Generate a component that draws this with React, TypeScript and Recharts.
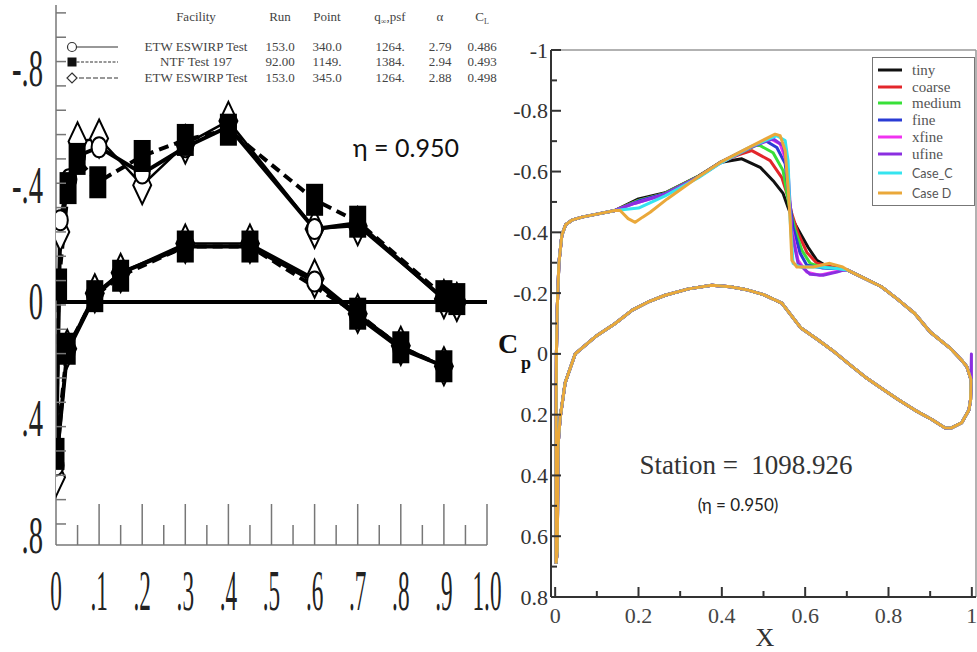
import React from 'react';
import { LineChart, Line, XAxis, YAxis, ReferenceLine, Legend } from 'recharts';

const SERIF = '"Liberation Serif", "Times New Roman", serif';
const SANS = 'Lato, "Open Sans", sans-serif';

// ---------- left panel: wind tunnel Cp at eta = 0.950 ----------
const facilityNames = ['ETW ESWIRP Test', 'NTF Test 197', 'ETW ESWIRP Test'];
const runs = ['153.0', '92.00', '153.0'];
const points = ['340.0', '1149.', '345.0'];
const qInf = ['1264.', '1384.', '1264.'];
const alphas = ['2.79', '2.94', '2.88'];
const liftCoefs = ['0.486', '0.493', '0.498'];

// [x/c, Cp]; lower surface runs trailing edge -> leading edge, upper runs leading edge -> trailing edge
const etw340Lower = [[0.9, 0.22], [0.8, 0.16], [0.7, 0.05], [0.6, -0.07], [0.45, -0.19], [0.3, -0.19], [0.15, -0.1], [0.09, -0.02], [0.026, 0.17], [0, 0.56]];
const etw340Upper = [[0.01, -0.28], [0.03, -0.42], [0.05, -0.5], [0.1, -0.53], [0.2, -0.44], [0.3, -0.53], [0.4, -0.6], [0.6, -0.25], [0.7, -0.27], [0.9, -0.01], [0.93, 0.0]];
const ntfLower = [[0.9, 0.22], [0.8, 0.155], [0.7, 0.04], [0.45, -0.19], [0.3, -0.19], [0.15, -0.09], [0.09, -0.02], [0.026, 0.16], [0, 0.52]];
const ntfUpper = [[0.006, -0.06], [0.028, -0.39], [0.049, -0.49], [0.097, -0.41], [0.2, -0.5], [0.3, -0.555], [0.4, -0.59], [0.6, -0.35], [0.7, -0.275], [0.9, -0.02], [0.93, -0.01]];
const etw345Lower = [[0.9, 0.22], [0.8, 0.15], [0.7, 0.04], [0.6, -0.08], [0.45, -0.2], [0.3, -0.2], [0.15, -0.1], [0.09, -0.03], [0.026, 0.16], [0, 0.6]];
const etw345Upper = [[0.01, -0.24], [0.05, -0.55], [0.1, -0.56], [0.2, -0.4], [0.3, -0.54], [0.4, -0.62], [0.6, -0.25], [0.7, -0.26], [0.9, -0.01], [0.93, 0.0]];

const leftYLabels = [-0.8, -0.4, 0, 0.4, 0.8];

// ---------- right panel: CFD grid study ----------
const caseNames = ['tiny', 'coarse', 'medium', 'fine', 'xfine', 'ufine', 'Case_C', 'Case D'];
const caseColors = ['#111111', '#e3262b', '#38e038', '#2a3bd4', '#f032f0', '#8b2fe0', '#35e4ef', '#eaa83a'];

const upperLeadingEdge = [[0.002, 0.69], [0.002, 0.3], [0.003, 0.0], [0.005, -0.15], [0.009, -0.3], [0.016, -0.39], [0.025, -0.425], [0.04, -0.44], [0.064, -0.45], [0.1, -0.46], [0.144, -0.472]];
const upperAft = [[0.703, -0.275], [0.74, -0.25], [0.783, -0.221], [0.82, -0.182], [0.863, -0.133], [0.9, -0.072], [0.947, -0.02], [0.975, 0.02], [0.988, 0.042], [0.998, 0.085]];
const lowerSurface = [[0.997, 0.15], [0.993, 0.185], [0.976, 0.226], [0.95, 0.244], [0.935, 0.243], [0.904, 0.216], [0.863, 0.185], [0.823, 0.15], [0.783, 0.113], [0.743, 0.075], [0.704, 0.032], [0.664, -0.013], [0.627, -0.05], [0.59, -0.085], [0.544, -0.167], [0.5, -0.195], [0.463, -0.21], [0.42, -0.221], [0.376, -0.226], [0.32, -0.214], [0.264, -0.193], [0.222, -0.17], [0.185, -0.144], [0.144, -0.1], [0.096, -0.056], [0.048, 0.0], [0.024, 0.095], [0.012, 0.21], [0.007, 0.3], [0.005, 0.65], [0.002, 0.69]];
const ufineTrailingEdge = [[0.999, 0.0], [0.999, 0.085]];

const tinyUpper = [[0.2, -0.51], [0.264, -0.53], [0.344, -0.585], [0.396, -0.63], [0.448, -0.642], [0.492, -0.614], [0.523, -0.57], [0.547, -0.528], [0.559, -0.482], [0.571, -0.439], [0.588, -0.397], [0.607, -0.351], [0.628, -0.308], [0.652, -0.288], [0.68, -0.28]];
const coarseUpper = [[0.2, -0.505], [0.264, -0.528], [0.344, -0.584], [0.396, -0.63], [0.44, -0.655], [0.472, -0.669], [0.516, -0.636], [0.544, -0.58], [0.559, -0.515], [0.568, -0.461], [0.583, -0.397], [0.604, -0.334], [0.628, -0.298], [0.66, -0.288], [0.68, -0.282]];
const mediumUpper = [[0.2, -0.505], [0.264, -0.528], [0.344, -0.584], [0.396, -0.63], [0.45, -0.665], [0.487, -0.689], [0.523, -0.662], [0.547, -0.603], [0.561, -0.493], [0.576, -0.407], [0.592, -0.341], [0.612, -0.298], [0.64, -0.285], [0.68, -0.28]];
const fineUpper = [[0.2, -0.503], [0.264, -0.527], [0.344, -0.583], [0.396, -0.63], [0.46, -0.675], [0.504, -0.702], [0.532, -0.679], [0.552, -0.626], [0.563, -0.5], [0.571, -0.416], [0.588, -0.331], [0.604, -0.292], [0.64, -0.283], [0.68, -0.28]];
const xfineUpper = [[0.19, -0.495], [0.264, -0.525], [0.344, -0.582], [0.396, -0.628], [0.47, -0.68], [0.516, -0.708], [0.54, -0.691], [0.554, -0.636], [0.568, -0.407], [0.583, -0.308], [0.604, -0.269], [0.635, -0.259], [0.667, -0.269], [0.69, -0.275]];
const ufineUpper = [[0.19, -0.495], [0.264, -0.525], [0.344, -0.582], [0.396, -0.628], [0.47, -0.68], [0.523, -0.708], [0.547, -0.685], [0.559, -0.603], [0.568, -0.397], [0.583, -0.298], [0.612, -0.262], [0.643, -0.259], [0.676, -0.269], [0.69, -0.275]];
const caseCUpper = [[0.2, -0.48], [0.264, -0.52], [0.344, -0.58], [0.396, -0.627], [0.47, -0.682], [0.532, -0.718], [0.552, -0.702], [0.559, -0.636], [0.564, -0.439], [0.571, -0.298], [0.588, -0.286], [0.635, -0.286], [0.68, -0.28]];
const caseDUpper = [[0.156, -0.472], [0.175, -0.445], [0.192, -0.433], [0.21, -0.45], [0.228, -0.466], [0.269, -0.51], [0.344, -0.583], [0.396, -0.63], [0.47, -0.683], [0.528, -0.723], [0.54, -0.718], [0.552, -0.669], [0.559, -0.548], [0.564, -0.439], [0.568, -0.308], [0.58, -0.286], [0.619, -0.286], [0.659, -0.298], [0.69, -0.286]];

const legendRowY = [13, 30, 46, 63, 80, 97, 116, 136];

const toPoints = (pairs: number[][]) => pairs.map(([x, cp]) => ({ x, cp }));

const loop = (lower: number[][], upper: number[][]) => toPoints([...lower, ...upper]);

const caseLoops = [tinyUpper, coarseUpper, mediumUpper, fineUpper, xfineUpper, ufineUpper, caseCUpper, caseDUpper].map(
  (mid, i) =>
    toPoints([
      ...upperLeadingEdge,
      ...mid,
      ...upperAft,
      ...(caseNames[i] === 'ufine' ? ufineTrailingEdge : []),
      ...lowerSurface,
    ])
);

// ---------- markers ----------
const SquareDot = (p: any) => (
  <rect key={p.index} x={p.cx - 8.5} y={p.cy - 16} width={17} height={32} fill="#000" />
);
const CircleDot = (p: any) => (
  <ellipse key={p.index} cx={p.cx} cy={p.cy} rx={7.5} ry={10} fill="#fff" stroke="#000" strokeWidth={2} />
);
const DiamondDot = (p: any) => (
  <polygon
    key={p.index}
    points={`${p.cx},${p.cy - 19} ${p.cx + 9},${p.cy} ${p.cx},${p.cy + 19} ${p.cx - 9},${p.cy}`}
    fill="#fff"
    stroke="#000"
    strokeWidth={2}
  />
);

// ---------- ticks ----------
const isMultiple = (v: number, step: number) => Math.abs(v / step - Math.round(v / step)) < 1e-6;

const leftXTicks = Array.from({ length: 21 }, (_, i) => i * 0.05);
const leftYTicks = [
  ...Array.from({ length: 22 }, (_, k) => -0.99 + k / 12),
  ...leftYLabels,
].sort((a, b) => a - b);

const LeftXTick = ({ x, y, payload }: any) => {
  const v = payload.value;
  const major = isMultiple(v, 0.1);
  const label = v === 0 ? '0' : isMultiple(v, 1) ? '1.0' : '.' + Math.round(v * 10);
  return (
    <g>
      {v > 0 && <line x1={x} x2={x} y1={y} y2={y - (major ? 41 : 20)} stroke="#777" strokeWidth={1.5} />}
      {major && (
        <text
          transform={`translate(${x},${y + 46}) scale(0.4,1)`}
          textAnchor="middle"
          dominantBaseline="central"
          fontSize={58}
          fontFamily={SERIF}
          fill="#222"
        >
          {label}
        </text>
      )}
    </g>
  );
};

const LeftYTick = ({ x, y, payload }: any) => {
  const v = payload.value;
  if (leftYLabels.includes(v)) {
    const label = v === 0 ? '0' : (v < 0 ? '-.' : '.') + Math.round(Math.abs(v) * 10);
    return (
      <text
        transform={`translate(${x - 13},${y}) scale(0.55,1)`}
        textAnchor="end"
        dominantBaseline="central"
        fontSize={52}
        fontFamily={SERIF}
        fill="#222"
      >
        {label}
      </text>
    );
  }
  return <line x1={x} x2={x + 10} y1={y} y2={y} stroke="#777" strokeWidth={1.5} />;
};

const rightYTicks = Array.from({ length: 19 }, (_, i) => Math.round((-1 + i * 0.1) * 10) / 10);
const rightXTicks = Array.from({ length: 11 }, (_, i) => Math.round(i * 0.1 * 10) / 10);

const fmtRight = (v: number) => (v === 0 ? '0' : isMultiple(v, 1) ? String(v) : v.toFixed(1));

const RightYTick = ({ x, y, payload }: any) => {
  const v = payload.value;
  const major = isMultiple(v, 0.2);
  return (
    <g>
      <line x1={x} x2={x + (major ? 10 : 6)} y1={y} y2={y} stroke="#333" strokeWidth={2} />
      {major && (
        <text x={x - 3} y={y} textAnchor="end" dominantBaseline="central" fontSize={22} fontFamily={SERIF} fill="#333">
          {fmtRight(v)}
        </text>
      )}
    </g>
  );
};

const RightXTick = ({ x, y, payload }: any) => {
  const v = payload.value;
  const major = isMultiple(v, 0.2);
  return (
    <g>
      <line x1={x} x2={x} y1={y} y2={y - (major ? 10 : 6)} stroke="#333" strokeWidth={2} />
      {major && (
        <text x={x} y={y + 18} textAnchor="middle" dominantBaseline="central" fontSize={22} fontFamily={SERIF} fill="#444">
          {fmtRight(v)}
        </text>
      )}
    </g>
  );
};

// ---------- legends ----------
const FacilityLegend = () => {
  const rowY = [47, 62, 78];
  const cols = [196, 280, 327, 390, 440, 482];
  return (
    <svg width={515} height={95} style={{ display: 'block' }}>
      <g fontFamily={SERIF} fontSize={13} fill="#444" textAnchor="middle">
        <text x={cols[0]} y={21}>Facility</text>
        <text x={cols[1]} y={21}>Run</text>
        <text x={cols[2]} y={21}>Point</text>
        <text x={cols[3]} y={21}>
          q<tspan fontSize={8} dy={3}>∞</tspan>
          <tspan dy={-3}>,psf</tspan>
        </text>
        <text x={cols[4]} y={21}>α</text>
        <text x={cols[5]} y={21}>
          C<tspan fontSize={8} dy={3}>L</tspan>
        </text>
        {facilityNames.map((name, i) => (
          <g key={i}>
            <text x={cols[0]} y={rowY[i] + 4}>{name}</text>
            <text x={cols[1]} y={rowY[i] + 4}>{runs[i]}</text>
            <text x={cols[2]} y={rowY[i] + 4}>{points[i]}</text>
            <text x={cols[3]} y={rowY[i] + 4}>{qInf[i]}</text>
            <text x={cols[4]} y={rowY[i] + 4}>{alphas[i]}</text>
            <text x={cols[5]} y={rowY[i] + 4}>{liftCoefs[i]}</text>
          </g>
        ))}
      </g>
      <line x1={72} x2={118} y1={rowY[0]} y2={rowY[0]} stroke="#333" strokeWidth={1.2} />
      <circle cx={72} cy={rowY[0]} r={4.5} fill="#fff" stroke="#333" strokeWidth={1.2} />
      <line x1={72} x2={118} y1={rowY[1]} y2={rowY[1]} stroke="#333" strokeWidth={1.2} strokeDasharray="3 1.5" />
      <rect x={67.5} y={rowY[1] - 4.5} width={9} height={9} fill="#111" />
      <line x1={72} x2={118} y1={rowY[2]} y2={rowY[2]} stroke="#333" strokeWidth={1.2} strokeDasharray="5 2" />
      <polygon
        points={`72,${rowY[2] - 5} 77,${rowY[2]} 72,${rowY[2] + 5} 67,${rowY[2]}`}
        fill="#fff"
        stroke="#333"
        strokeWidth={1.2}
      />
    </svg>
  );
};

const GridLegend = () => (
  <svg width={103} height={149} style={{ display: 'block' }}>
    <rect x={0.5} y={0.5} width={102} height={148} fill="#fff" stroke="#777" strokeWidth={1} />
    {caseNames.map((name, i) => {
      const isCase = name.startsWith('Case');
      return (
        <g key={name}>
          <line x1={6} x2={30} y1={legendRowY[i]} y2={legendRowY[i]} stroke={caseColors[i]} strokeWidth={3} />
          <text
            x={40}
            y={legendRowY[i]}
            dominantBaseline="central"
            fontFamily={isCase ? SANS : SERIF}
            fontSize={isCase ? 12.5 : 15}
            fill="#555"
            style={{ whiteSpace: 'pre' }}
          >
            {name}
          </text>
        </g>
      );
    })}
  </svg>
);

export default function App() {
  return (
    <div style={{ position: 'absolute', left: 0, top: 0, width: 977, height: 652, background: '#fff', overflow: 'hidden' }}>
      <div style={{ position: 'absolute', left: 0, top: 0 }}>
        <LineChart width={515} height={652} margin={{ top: 5, right: 28, bottom: 47, left: 0 }}>
          <XAxis
            type="number"
            dataKey="x"
            domain={[0, 1]}
            ticks={leftXTicks}
            interval={0}
            height={60}
            tickLine={false}
            tickSize={0}
            tickMargin={0}
            tick={LeftXTick}
            axisLine={{ stroke: '#777', strokeWidth: 1.5 }}
            allowDataOverflow
          />
          <YAxis
            type="number"
            dataKey="cp"
            domain={[-1.017, 0.832]}
            reversed
            ticks={leftYTicks}
            interval={0}
            width={56}
            tickLine={false}
            tickSize={0}
            tickMargin={0}
            tick={LeftYTick}
            axisLine={{ stroke: '#777', strokeWidth: 1.5 }}
            allowDataOverflow
          />
          <ReferenceLine y={0} stroke="#000" strokeWidth={4} />
          <Legend
            layout="vertical"
            align="center"
            verticalAlign="middle"
            wrapperStyle={{ left: 0, top: 0, width: 515, height: 95 }}
            content={FacilityLegend}
          />
          <Line
            data={loop(etw345Lower, etw345Upper)}
            dataKey="cp"
            name="ETW ESWIRP Test 345"
            stroke="#000"
            strokeWidth={2.5}
            dot={DiamondDot}
            activeDot={false}
            isAnimationActive={false}
          />
          <Line
            data={loop(etw340Lower, etw340Upper)}
            dataKey="cp"
            name="ETW ESWIRP Test 340"
            stroke="#000"
            strokeWidth={4}
            dot={CircleDot}
            activeDot={false}
            isAnimationActive={false}
          />
          <Line
            data={loop(ntfLower, ntfUpper)}
            dataKey="cp"
            name="NTF Test 197"
            stroke="#000"
            strokeWidth={4}
            strokeDasharray="10 6"
            dot={SquareDot}
            activeDot={false}
            isAnimationActive={false}
          />
        </LineChart>
      </div>

      <div style={{ position: 'absolute', left: 490, top: 0 }}>
        <LineChart width={487} height={652} margin={{ top: 50, right: 1, bottom: 15, left: 0 }}>
          <XAxis
            type="number"
            dataKey="x"
            domain={[-0.01, 1.01]}
            ticks={rightXTicks}
            interval={0}
            height={40}
            tickLine={false}
            tickSize={0}
            tickMargin={0}
            tick={RightXTick}
            axisLine={{ stroke: '#333', strokeWidth: 2 }}
            allowDataOverflow
          />
          <YAxis
            type="number"
            dataKey="cp"
            domain={[-1, 0.8]}
            reversed
            ticks={rightYTicks}
            interval={0}
            width={61}
            tickLine={false}
            tickSize={0}
            tickMargin={0}
            tick={RightYTick}
            axisLine={{ stroke: '#333', strokeWidth: 2 }}
            allowDataOverflow
          />
          <ReferenceLine y={-1} stroke="#999" strokeWidth={1.5} />
          <ReferenceLine x={1.01} stroke="#999" strokeWidth={1.5} />
          {caseLoops.map((data, i) => (
            <Line
              key={caseNames[i]}
              data={data}
              dataKey="cp"
              name={caseNames[i]}
              stroke={caseColors[i]}
              strokeWidth={3}
              strokeLinejoin="round"
              dot={false}
              activeDot={false}
              isAnimationActive={false}
            />
          ))}
          <Legend
            layout="vertical"
            align="center"
            verticalAlign="middle"
            wrapperStyle={{ left: 382, top: 57, width: 103, height: 149 }}
            content={GridLegend}
          />
        </LineChart>
      </div>

      <svg width={977} height={652} style={{ position: 'absolute', left: 0, top: 0, pointerEvents: 'none' }}>
        <text x={406} y={157} textAnchor="middle" fontFamily={SANS} fontSize={25} fill="#111">
          η = 0.950
        </text>
        <text x={746} y={474} textAnchor="middle" fontFamily={SERIF} fontSize={27} fill="#333" style={{ whiteSpace: 'pre' }}>
          {'Station =  1098.926'}
        </text>
        <text x={738} y={511} textAnchor="middle" fontFamily={SANS} fontSize={17} fill="#222">
          (η = 0.950)
        </text>
        <text x={765} y={646} textAnchor="middle" fontFamily={SERIF} fontSize={26} fill="#333">
          X
        </text>
        <text x={508} y={353} textAnchor="middle" fontFamily={SERIF} fontSize={28} fontWeight="bold" fill="#111">
          C
        </text>
        <text x={526} y={369} textAnchor="middle" fontFamily={SERIF} fontSize={18} fontWeight="bold" fill="#111">
          p
        </text>
      </svg>
    </div>
  );
}
